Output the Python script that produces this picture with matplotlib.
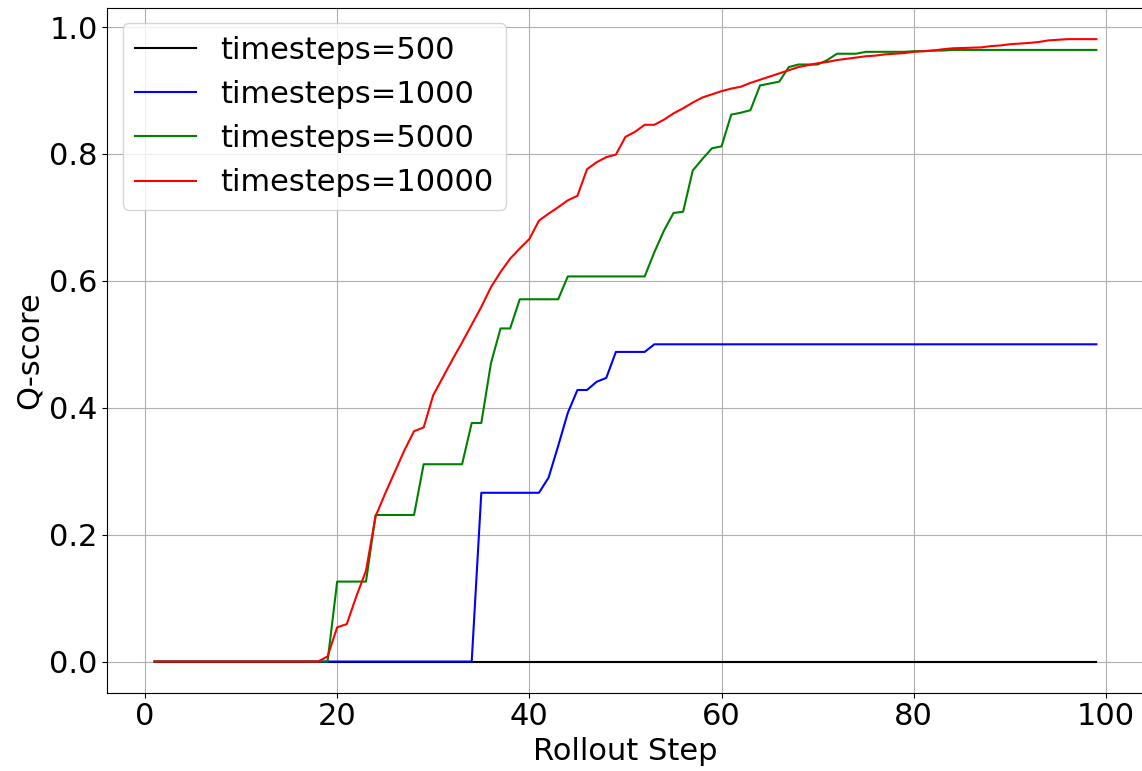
import matplotlib
matplotlib.use('Agg')
import matplotlib.pyplot as plt
import numpy as np

# --------------[DATA]----------------
steps = np.arange(1, 100)

q_500 = [0.0] * 99

q_1000 = ([0.0] * 34
          + [0.266] * 7
          + [0.29, 0.34, 0.392, 0.428, 0.428, 0.441, 0.447,
             0.488, 0.488, 0.488, 0.488]
          + [0.5] * 47)

q_5000 = ([0.0] * 19
          + [0.126] * 4
          + [0.231] * 5
          + [0.311] * 5
          + [0.376] * 2
          + [0.47, 0.525, 0.525]
          + [0.571] * 5
          + [0.607] * 9
          + [0.645, 0.679, 0.707, 0.709, 0.774, 0.792, 0.809, 0.812,
             0.862, 0.865, 0.869, 0.908, 0.911, 0.914, 0.937, 0.941,
             0.941, 0.941, 0.948, 0.958, 0.958, 0.958,
             0.961, 0.961, 0.961, 0.961, 0.961, 0.962, 0.962, 0.963, 0.963]
          + [0.964] * 16)

# steps 1-18 are zero, then 19..99
q_10000 = ([0.0] * 18
           + [0.008, 0.054, 0.059, 0.103, 0.143, 0.229, 0.265, 0.299,
              0.333, 0.363, 0.369, 0.42, 0.448, 0.476, 0.503, 0.531,
              0.559, 0.59, 0.614, 0.635, 0.651, 0.666, 0.695, 0.706,
              0.716, 0.727, 0.734, 0.776, 0.787, 0.795, 0.799, 0.827,
              0.835, 0.846, 0.846, 0.854, 0.864, 0.872, 0.881, 0.889,
              0.894, 0.899, 0.903, 0.906, 0.912, 0.917, 0.922, 0.927,
              0.932, 0.937, 0.940, 0.943, 0.945, 0.948, 0.950, 0.952,
              0.954, 0.955, 0.957, 0.958, 0.959,
              0.961, 0.962, 0.963, 0.965, 0.9665, 0.967, 0.9675, 0.968,
              0.970, 0.971, 0.973, 0.974, 0.975, 0.9765, 0.979, 0.980,
              0.981, 0.981, 0.981, 0.981])

labels = ['timesteps=500', 'timesteps=1000', 'timesteps=5000', 'timesteps=10000']
colors = ['black', 'blue', 'green', 'red']

# --------------[PLOT]----------------
fig = plt.figure(figsize=(11.42, 7.71), dpi=100)
ax = fig.add_axes([0.0941, 0.1016, 0.9072, 0.888])

for q, lab, c in zip([q_500, q_1000, q_5000, q_10000], labels, colors):
    ax.plot(steps, q, color=c, label=lab, linewidth=1.5)

ax.set_xlabel('Rollout Step', fontsize=22)
ax.set_ylabel('Q-score', fontsize=22)
ax.tick_params(labelsize=22)
ax.grid(True)
ax.legend(loc='upper left', fontsize=22)

fig.savefig('out.png', dpi=100)
